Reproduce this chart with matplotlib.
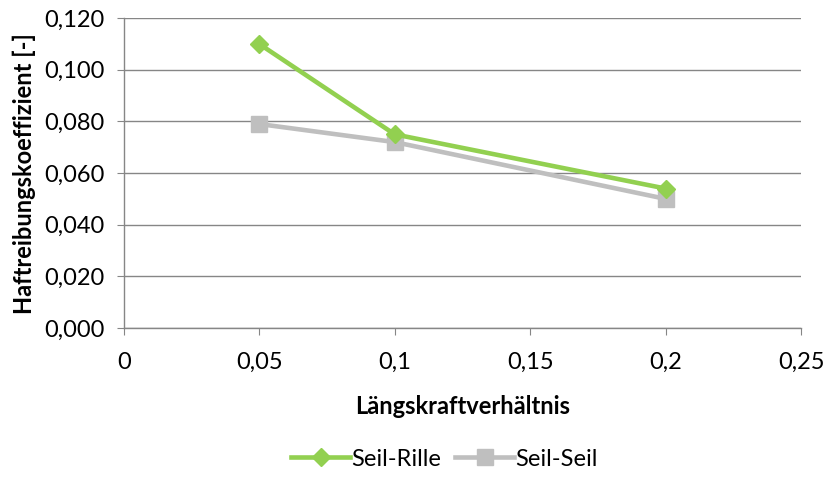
import matplotlib
matplotlib.use("Agg")
import matplotlib.pyplot as plt
from matplotlib.ticker import FuncFormatter, MultipleLocator

# Data
x_values = [0.05, 0.1, 0.2]
seil_rille = [0.110, 0.075, 0.054]
seil_seil = [0.079, 0.072, 0.050]
x_label = "Längskraftverhältnis"
y_label = "Haftreibungskoeffizient [-]"

plt.rcParams['font.family'] = ['Lato', 'DejaVu Sans']

fig = plt.figure(figsize=(8.31, 4.91), dpi=100)
ax = fig.add_axes([0.149, 0.332, 0.815, 0.631])

green = '#92D050'
grey = '#BFBFBF'
axis_col = '#868686'

ax.plot(x_values, seil_rille, color=green, lw=3.3, marker='D', ms=9,
        mec=green, mfc=green, label='Seil-Rille', zorder=3)
ax.plot(x_values, seil_seil, color=grey, lw=3.3, marker='s', ms=11,
        mec=grey, mfc=grey, label='Seil-Seil', zorder=2)

ax.set_xlim(0, 0.25)
ax.set_ylim(0, 0.12)
ax.xaxis.set_major_locator(MultipleLocator(0.05))
ax.yaxis.set_major_locator(MultipleLocator(0.02))

def fmt_x(v, pos):
    s = f"{v:.2f}".rstrip('0').rstrip('.')
    return s.replace('.', ',')

ax.xaxis.set_major_formatter(FuncFormatter(fmt_x))
ax.yaxis.set_major_formatter(FuncFormatter(lambda v, p: f"{v:.3f}".replace('.', ',')))

ax.grid(axis='y', color=axis_col, lw=1)
ax.set_axisbelow(True)
for side in ['top', 'right']:
    ax.spines[side].set_visible(False)
for side in ['left', 'bottom']:
    ax.spines[side].set_color(axis_col)
    ax.spines[side].set_linewidth(1)

ax.tick_params(axis='both', colors=axis_col, labelcolor='black', labelsize=17,
               length=5, direction='out')
ax.tick_params(axis='x', pad=12)
ax.tick_params(axis='y', pad=9)

ax.set_xlabel(x_label, fontsize=17, fontweight='bold', labelpad=16)
ax.set_ylabel(y_label, fontsize=17, fontweight='bold', labelpad=6)

leg = fig.legend(loc='lower center', bbox_to_anchor=(0.535, 0.0), ncol=2,
                 frameon=False, fontsize=17, handlelength=2.5,
                 handletextpad=0.05, columnspacing=0.6)

fig.savefig('out.png', dpi=100)
